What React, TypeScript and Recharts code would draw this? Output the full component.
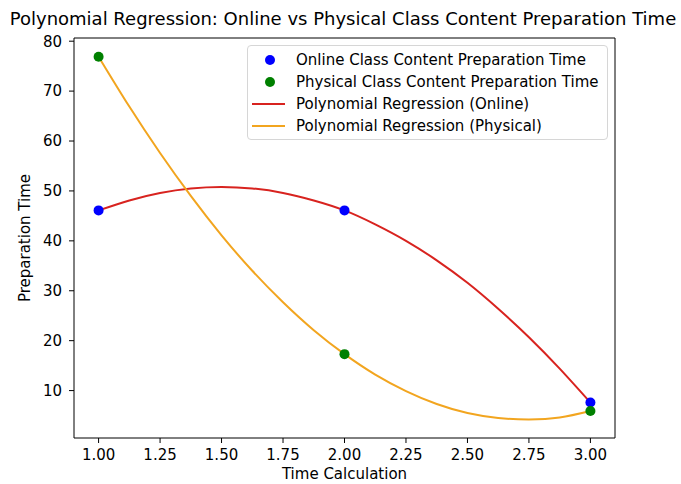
import {
  ComposedChart,
  Scatter,
  Line,
  XAxis,
  YAxis,
  Label,
  ReferenceLine,
} from 'recharts';

// observed points
const pointX = [1, 2, 3];
const onlinePoints = [46.1, 46.1, 7.6];
const physicalPoints = [76.9, 17.3, 5.9];

// fitted curves
const curveX = [1, 1.125, 1.25, 1.375, 1.5, 1.625, 1.75, 1.875, 2, 2.125, 2.25, 2.375, 2.5, 2.625, 2.75, 2.875, 3];
const onlineCurve = [46.1, 48.1, 49.6, 50.5, 50.8, 50.5, 49.6, 48.1, 46.1, 43.3, 40.0, 36.1, 31.6, 26.4, 20.7, 14.4, 7.6];
const physicalCurve = [76.9, 66.9, 57.6, 49.0, 41.1, 34.0, 27.7, 22.1, 17.3, 13.2, 9.9, 7.3, 5.5, 4.5, 4.2, 4.6, 5.9];

const xTicks = [1, 1.25, 1.5, 1.75, 2, 2.25, 2.5, 2.75, 3];
const yTicks = [10, 20, 30, 40, 50, 60, 70, 80];

const legendItems = [
  { label: 'Online Class Content Preparation Time', color: '#0000ff', kind: 'dot' },
  { label: 'Physical Class Content Preparation Time', color: '#008000', kind: 'dot' },
  { label: 'Polynomial Regression (Online)', color: '#d8231f', kind: 'line' },
  { label: 'Polynomial Regression (Physical)', color: '#f2a51f', kind: 'line' },
];

const FONT = '"DejaVu Sans", sans-serif';
const W = 681;
const H = 484;
const X_DOMAIN = [0.9, 3.1];
const Y_DOMAIN = [0.5, 80.64];

const onlineData = pointX.map((x, i) => ({ x, y: onlinePoints[i] }));
const physicalData = pointX.map((x, i) => ({ x, y: physicalPoints[i] }));
const onlineLine = curveX.map((x, i) => ({ x, y: onlineCurve[i] }));
const physicalLine = curveX.map((x, i) => ({ x, y: physicalCurve[i] }));

const dot = (color: string) => (props: any) => (
  <circle cx={props.cx} cy={props.cy} r={5} fill={color} />
);

const tickStyle = { fontFamily: FONT, fontSize: 15, fill: '#000' };

export default function App() {
  return (
    <div style={{ position: 'absolute', left: 0, top: 0, width: W, height: H, background: '#fff' }}>
      <div
        style={{
          position: 'absolute',
          left: 0,
          width: 686,
          top: 8,
          textAlign: 'center',
          fontFamily: FONT,
          fontSize: 18,
          color: '#000',
          whiteSpace: 'nowrap',
        }}
      >
        Polynomial Regression: Online vs Physical Class Content Preparation Time
      </div>
      <ComposedChart
        width={W}
        height={H}
        margin={{ top: 38, right: 66, left: 24, bottom: 0 }}
      >
        <XAxis
          type="number"
          dataKey="x"
          domain={X_DOMAIN}
          ticks={xTicks}
          tickFormatter={(v: number) => v.toFixed(2)}
          allowDataOverflow
          height={46}
          stroke="#000"
          tick={tickStyle}
          tickSize={5}
          tickMargin={6}
        >
          <Label
            value="Time Calculation"
            position="insideBottom"
            offset={5}
            style={{ fontFamily: FONT, fontSize: 15, fill: '#000' }}
          />
        </XAxis>
        <YAxis
          type="number"
          domain={Y_DOMAIN}
          ticks={yTicks}
          allowDataOverflow
          width={50}
          stroke="#000"
          tick={tickStyle}
          tickSize={5}
          tickMargin={7}
        >
          <Label
            value="Preparation Time"
            angle={-90}
            position="insideLeft"
            offset={1}
            style={{ fontFamily: FONT, fontSize: 15, fill: '#000', textAnchor: 'middle' }}
          />
        </YAxis>
        <ReferenceLine y={Y_DOMAIN[1]} stroke="#000" ifOverflow="extendDomain" />
        <ReferenceLine x={X_DOMAIN[1]} stroke="#000" ifOverflow="extendDomain" />
        <Scatter
          data={onlineData}
          dataKey="y"
          fill="#0000ff"
          shape={dot('#0000ff')}
          isAnimationActive={false}
        />
        <Scatter
          data={physicalData}
          dataKey="y"
          fill="#008000"
          shape={dot('#008000')}
          isAnimationActive={false}
        />
        <Line
          data={onlineLine}
          dataKey="y"
          type="natural"
          stroke="#d8231f"
          strokeWidth={2}
          dot={false}
          activeDot={false}
          isAnimationActive={false}
        />
        <Line
          data={physicalLine}
          dataKey="y"
          type="natural"
          stroke="#f2a51f"
          strokeWidth={2}
          dot={false}
          activeDot={false}
          isAnimationActive={false}
        />
      </ComposedChart>
      <div
        style={{
          position: 'absolute',
          left: 247,
          top: 45,
          width: 361,
          height: 95,
          border: '1px solid #d6d6d6',
          borderRadius: 4,
          background: 'rgba(255,255,255,0.8)',
          boxSizing: 'border-box',
          fontFamily: FONT,
          fontSize: 15,
          color: '#000',
        }}
      >
        {legendItems.map((item, i) => (
          <div
            key={item.label}
            style={{ position: 'absolute', left: 0, top: 3 + i * 22, height: 22, width: '100%', whiteSpace: 'nowrap' }}
          >
            {item.kind === 'dot' ? (
              <span
                style={{
                  position: 'absolute',
                  left: 17,
                  top: 6,
                  width: 10,
                  height: 10,
                  borderRadius: '50%',
                  background: item.color,
                }}
              />
            ) : (
              <span
                style={{
                  position: 'absolute',
                  left: 4,
                  top: 10,
                  width: 33,
                  height: 2,
                  background: item.color,
                }}
              />
            )}
            <span style={{ position: 'absolute', left: 48, top: 2 }}>{item.label}</span>
          </div>
        ))}
      </div>
    </div>
  );
}
